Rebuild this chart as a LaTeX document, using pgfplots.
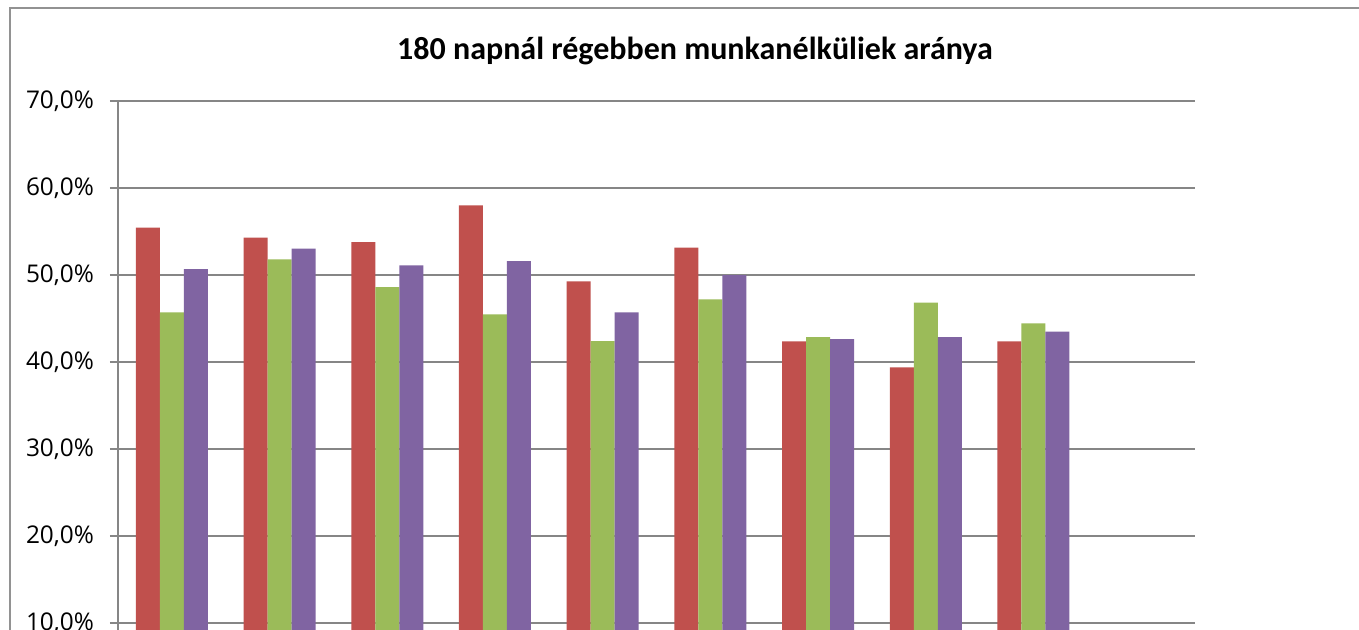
\documentclass[border=0pt]{standalone}
\usepackage{pgfplots}
\usepackage{pgfplotstable}
\pgfplotsset{compat=1.18}
\usepackage{fontspec}
\setmainfont{Carlito}
\newfontfamily\tickfont{Open Sans}

\definecolor{serA}{HTML}{C0504D}
\definecolor{serB}{HTML}{9BBB59}
\definecolor{serC}{HTML}{8064A2}
\definecolor{gridc}{HTML}{868686}

% x = category slot, a/b/c = the three series (percent)
\pgfplotstableread{
x  a      b      c
1  55.44  45.71  50.69
2  54.29  51.80  53.03
3  53.79  48.62  51.11
4  58.01  45.48  51.61
5  49.27  42.41  45.71
6  53.14  47.20  50.00
7  42.37  42.87  42.64
8  39.39  46.82  42.87
9  42.37  44.44  43.48
}\datatable

\begin{document}
\begin{tikzpicture}
% 1 px of the reference = 0.5pt
\useasboundingbox (0,0) rectangle (679.5pt,-314.5pt);
\clip (0,0) rectangle (679.5pt,-314.5pt);
\fill[white] (0,0) rectangle (679.5pt,-314.5pt);
\draw[gridc!90, line width=0.75pt] (5pt,-4pt) rectangle (700pt,-330pt);

\node[anchor=base, font=\fontsize{16}{19}\selectfont\bfseries]
  at (347.5pt,-29.5pt) {180 napnál régebben munkanélküliek aránya};

\begin{axis}[
  at={(59pt,-355pt)}, anchor=south west,
  width=538.5pt, height=304.5pt, scale only axis,
  xmin=0.5, xmax=10.5, ymin=0, ymax=70,
  ybar=0pt, bar width=12pt,
  axis y line*=left, axis x line*=bottom,
  axis line style={gridc, line width=0.75pt},
  xtick=\empty,
  ytick={0,10,...,70},
  yticklabels={{0,0\%},{10,0\%},{20,0\%},{30,0\%},{40,0\%},{50,0\%},{60,0\%},{70,0\%}},
  yticklabel style={font=\tickfont\fontsize{12.2}{15}\selectfont, xshift=-4.5pt},
  tick align=outside, major tick length=4pt,
  tick style={gridc, line width=0.75pt},
  ymajorgrids, grid style={gridc, line width=0.75pt},
  clip=false,
]
\addplot[fill=serA, draw=none] table[x=x, y=a] {\datatable};
\addplot[fill=serB, draw=none] table[x=x, y=b] {\datatable};
\addplot[fill=serC, draw=none] table[x=x, y=c] {\datatable};
\end{axis}
\end{tikzpicture}
\end{document}
